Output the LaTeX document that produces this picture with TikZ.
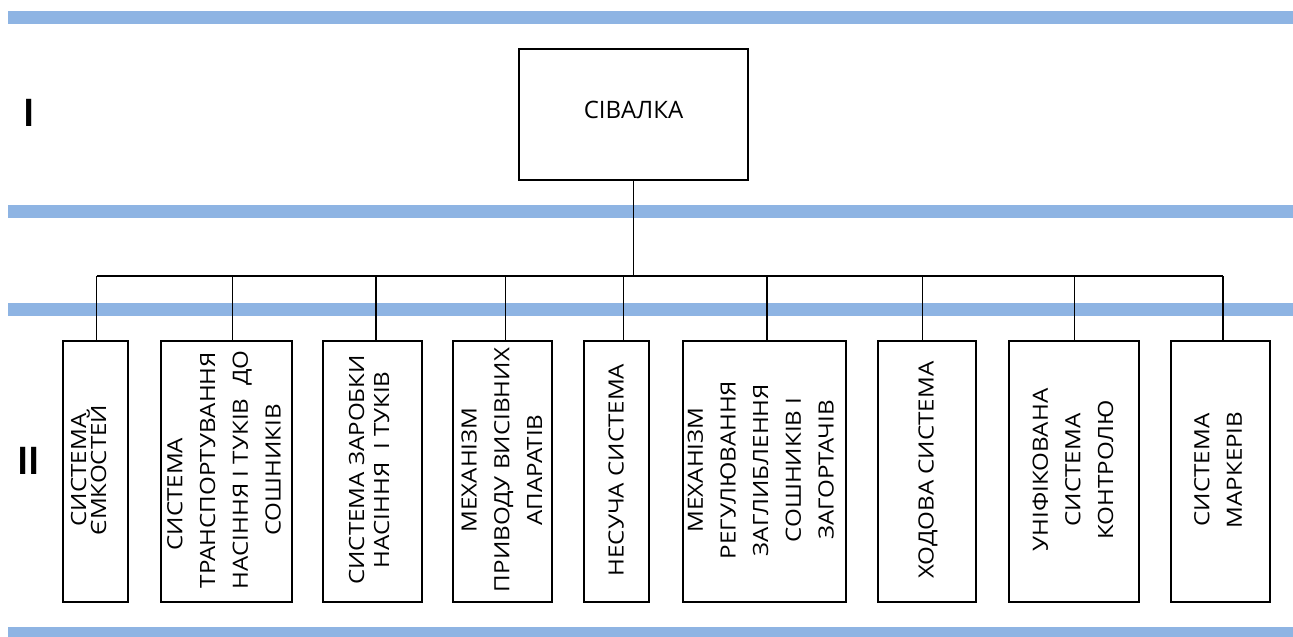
\documentclass[tikz,border=0pt]{standalone}
\usepackage{fontspec}
\setmainfont{Open Sans}
\definecolor{bandblue}{HTML}{8EB4E3}
\tikzset{
  x=1pt, y=-1pt,
  band/.style={fill=bandblue, draw=none},
  boxnode/.style={draw=black, line width=1.6pt, inner sep=0pt, fill=white, minimum height=261pt},
  conn/.style={draw=black, line width=1.3pt},
  vtext/.style={rotate=90, xscale=1.15, inner sep=0pt, align=center, font=\fontsize{21}{32.7}\selectfont},
  roman/.style={inner sep=0pt, yscale=1.12, font=\fontsize{34}{40}\selectfont\bfseries},
}
\begin{document}
\begin{tikzpicture}
\useasboundingbox (0,0) rectangle (1293,637);
% bands
\fill[band] (8,10.5) rectangle (1293,23.5);
\fill[band] (8,205) rectangle (1293,218);
\fill[band] (8,302.5) rectangle (1293,315.5);
\fill[band] (8,626.5) rectangle (1293,637);
% roman numerals
\node[roman] (rI) at (29.5,112.5) {I};
\node[roman] (rII) at (29,460.5) {II};
% top box
\node[boxnode, minimum width=229pt, minimum height=131pt, font=\fontsize{24}{29}\selectfont, text depth=9pt] (top) at (633.5,114.5) {СІВАЛКА};
% child boxes
\node[boxnode, minimum width=65pt]  (b1) at (95.5,471.5) {};
\node[boxnode, minimum width=131pt] (b2) at (226.5,471.5) {};
\node[boxnode, minimum width=99pt]  (b3) at (372.5,471.5) {};
\node[boxnode, minimum width=99pt]  (b4) at (502.5,471.5) {};
\node[boxnode, minimum width=65pt]  (b5) at (616.5,471.5) {};
\node[boxnode, minimum width=163pt] (b6) at (764.5,471.5) {};
\node[boxnode, minimum width=98pt]  (b7) at (927,471.5) {};
\node[boxnode, minimum width=130pt] (b8) at (1074,471.5) {};
\node[boxnode, minimum width=99pt]  (b9) at (1220.5,471.5) {};
% texts
\node[vtext, font=\fontsize{21}{20}\selectfont] (t1) at (88.5,470) {СИСТЕМА\\ЄМКОСТЕЙ};
\node[vtext] (t2) at (224,470) {СИСТЕМА\hspace*{42pt}\\ТРАНСПОРТУВАННЯ\\НАСІННЯ І ТУКІВ~ ДО\\СОШНИКІВ};
\node[vtext, font=\fontsize{21}{25}\selectfont] (t3) at (369,470) {СИСТЕМА ЗАРОБКИ\\НАСІННЯ~ І ТУКІВ};
\node[vtext] (t4) at (501.7,470) {МЕХАНІЗМ\\ПРИВОДУ ВИСІВНИХ\\АПАРАТІВ};
\node[vtext] (t5) at (616,470) {НЕСУЧА СИСТЕМА};
\node[vtext] (t6) at (760.7,470) {МЕХАНІЗМ\\РЕГУЛЮВАННЯ\\ЗАГЛИБЛЕННЯ\\СОШНИКІВ І\\ЗАГОРТАЧІВ};
\node[vtext] (t7) at (928,470) {ХОДОВА СИСТЕМА};
\node[vtext] (t8) at (1073,470) {УНІФІКОВАНА\\СИСТЕМА\\КОНТРОЛЮ};
\node[vtext] (t9) at (1218,470) {СИСТЕМА\\МАРКЕРІВ};
% connectors
\coordinate (c1) at (96.5,276);
\coordinate (c2) at (232.5,276);
\coordinate (c3) at (376,276);
\coordinate (c4) at (505.5,276);
\coordinate (c5) at (623.5,276);
\coordinate (c6) at (767,276);
\coordinate (c7) at (922.5,276);
\coordinate (c8) at (1074.5,276);
\coordinate (c9) at (1223,276);
\draw[conn] (top.south) -- (top.south |- c1);
\draw[conn] (c1) -- (c9);
\foreach \i in {1,...,9} {
  \draw[conn] (c\i) -- (c\i |- b\i.north);
}
\end{tikzpicture}
\end{document}
